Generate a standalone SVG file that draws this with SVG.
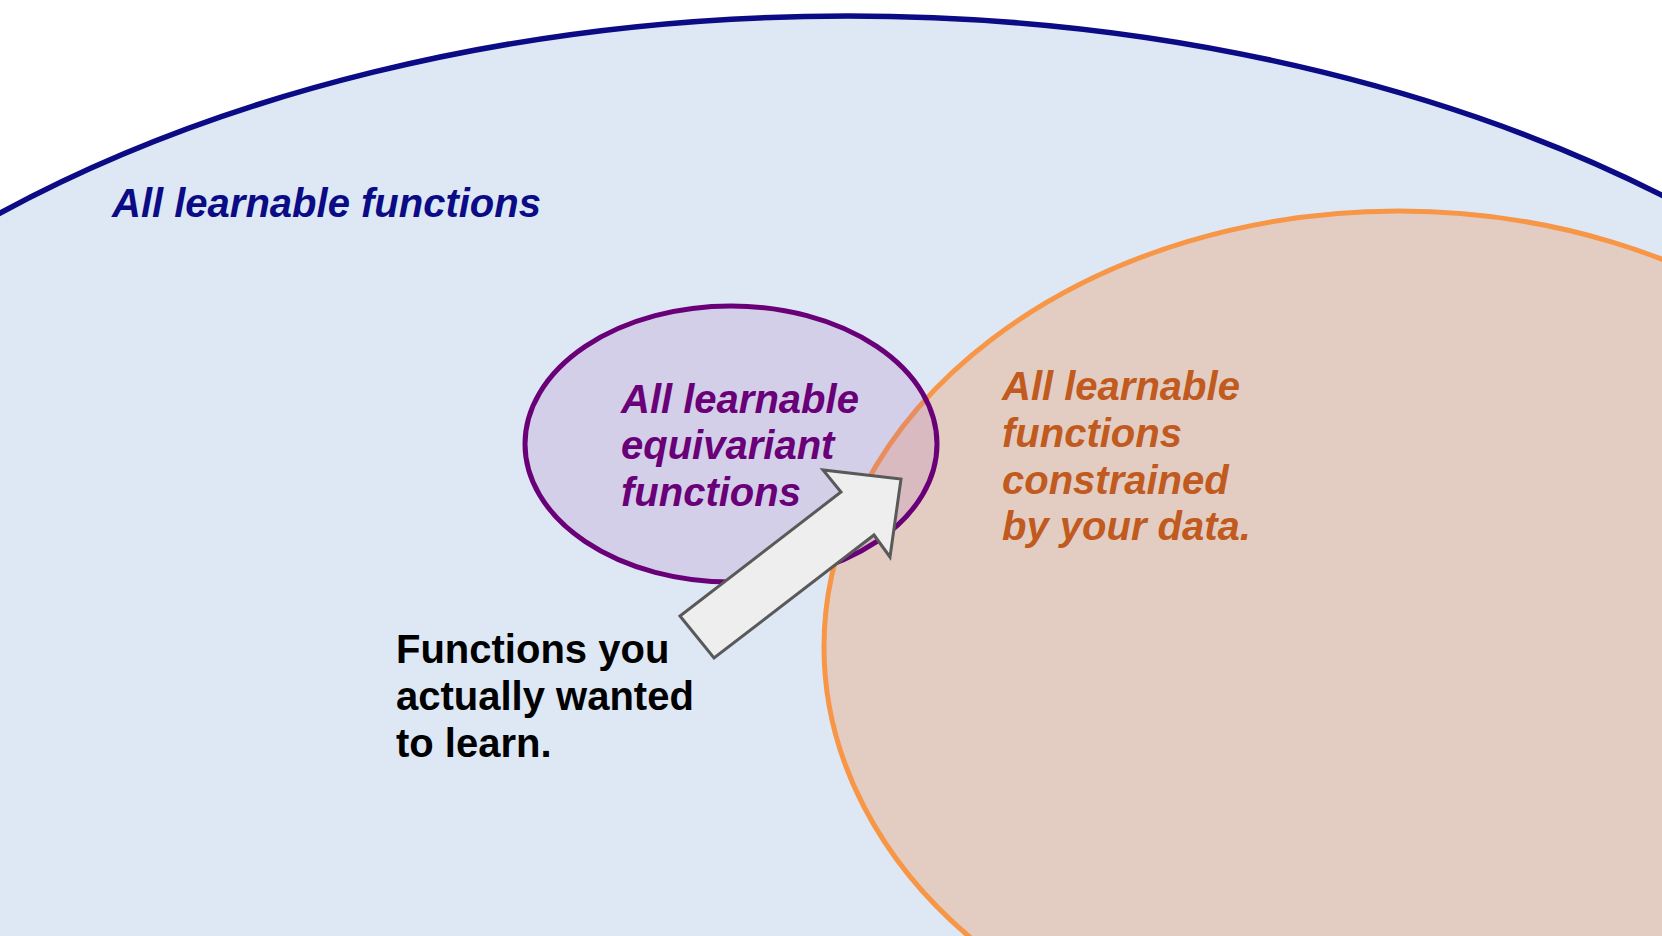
<svg xmlns="http://www.w3.org/2000/svg" width="1662" height="936" viewBox="0 0 1662 936">
<style>
text{font-family:"Liberation Sans",Arial,sans-serif;font-weight:bold;font-size:40px}
.it{font-style:italic}
.navy{fill:#0b0b86}
.purple{fill:#6a0078}
.orange{fill:#c05a1e}
.black{fill:#000000}
</style>
<rect x="0" y="0" width="1662" height="936" fill="#ffffff"/>
<g id="all-functions">
<ellipse cx="848" cy="816" rx="1290" ry="800" fill="#dde8f4" stroke="#0b0b86" stroke-width="5.5"/>
<text class="it navy" x="112" y="217">All learnable functions</text>
</g>
<g id="data-constrained">
<ellipse cx="1399" cy="647" rx="575" ry="436" fill="#e3cdc2" stroke="#f79646" stroke-width="5"/>
<text class="it orange"><tspan x="1002" y="400">All learnable</tspan><tspan x="1002" y="447">functions</tspan><tspan x="1002" y="494">constrained</tspan><tspan x="1002" y="540">by your data.</tspan></text>
</g>
<g id="equivariant">
<ellipse cx="731" cy="444" rx="206" ry="138" fill="#af70b8" fill-opacity="0.2" stroke="#6a0078" stroke-width="5"/>
<text class="it purple"><tspan x="621" y="413">All learnable</tspan><tspan x="621" y="459">equivariant</tspan><tspan x="621" y="506">functions</tspan></text>
</g>
<g id="connectors">
<polygon points="680,616 714,658 874,535 890,557 901,479 823,470 841,492" fill="#eeeeee" stroke="#595959" stroke-width="3" stroke-linejoin="miter"/>
</g>
<g id="wanted">
<text class="black"><tspan x="396" y="663">Functions you</tspan><tspan x="396" y="710">actually wanted</tspan><tspan x="396" y="757">to learn.</tspan></text>
</g>
</svg>
